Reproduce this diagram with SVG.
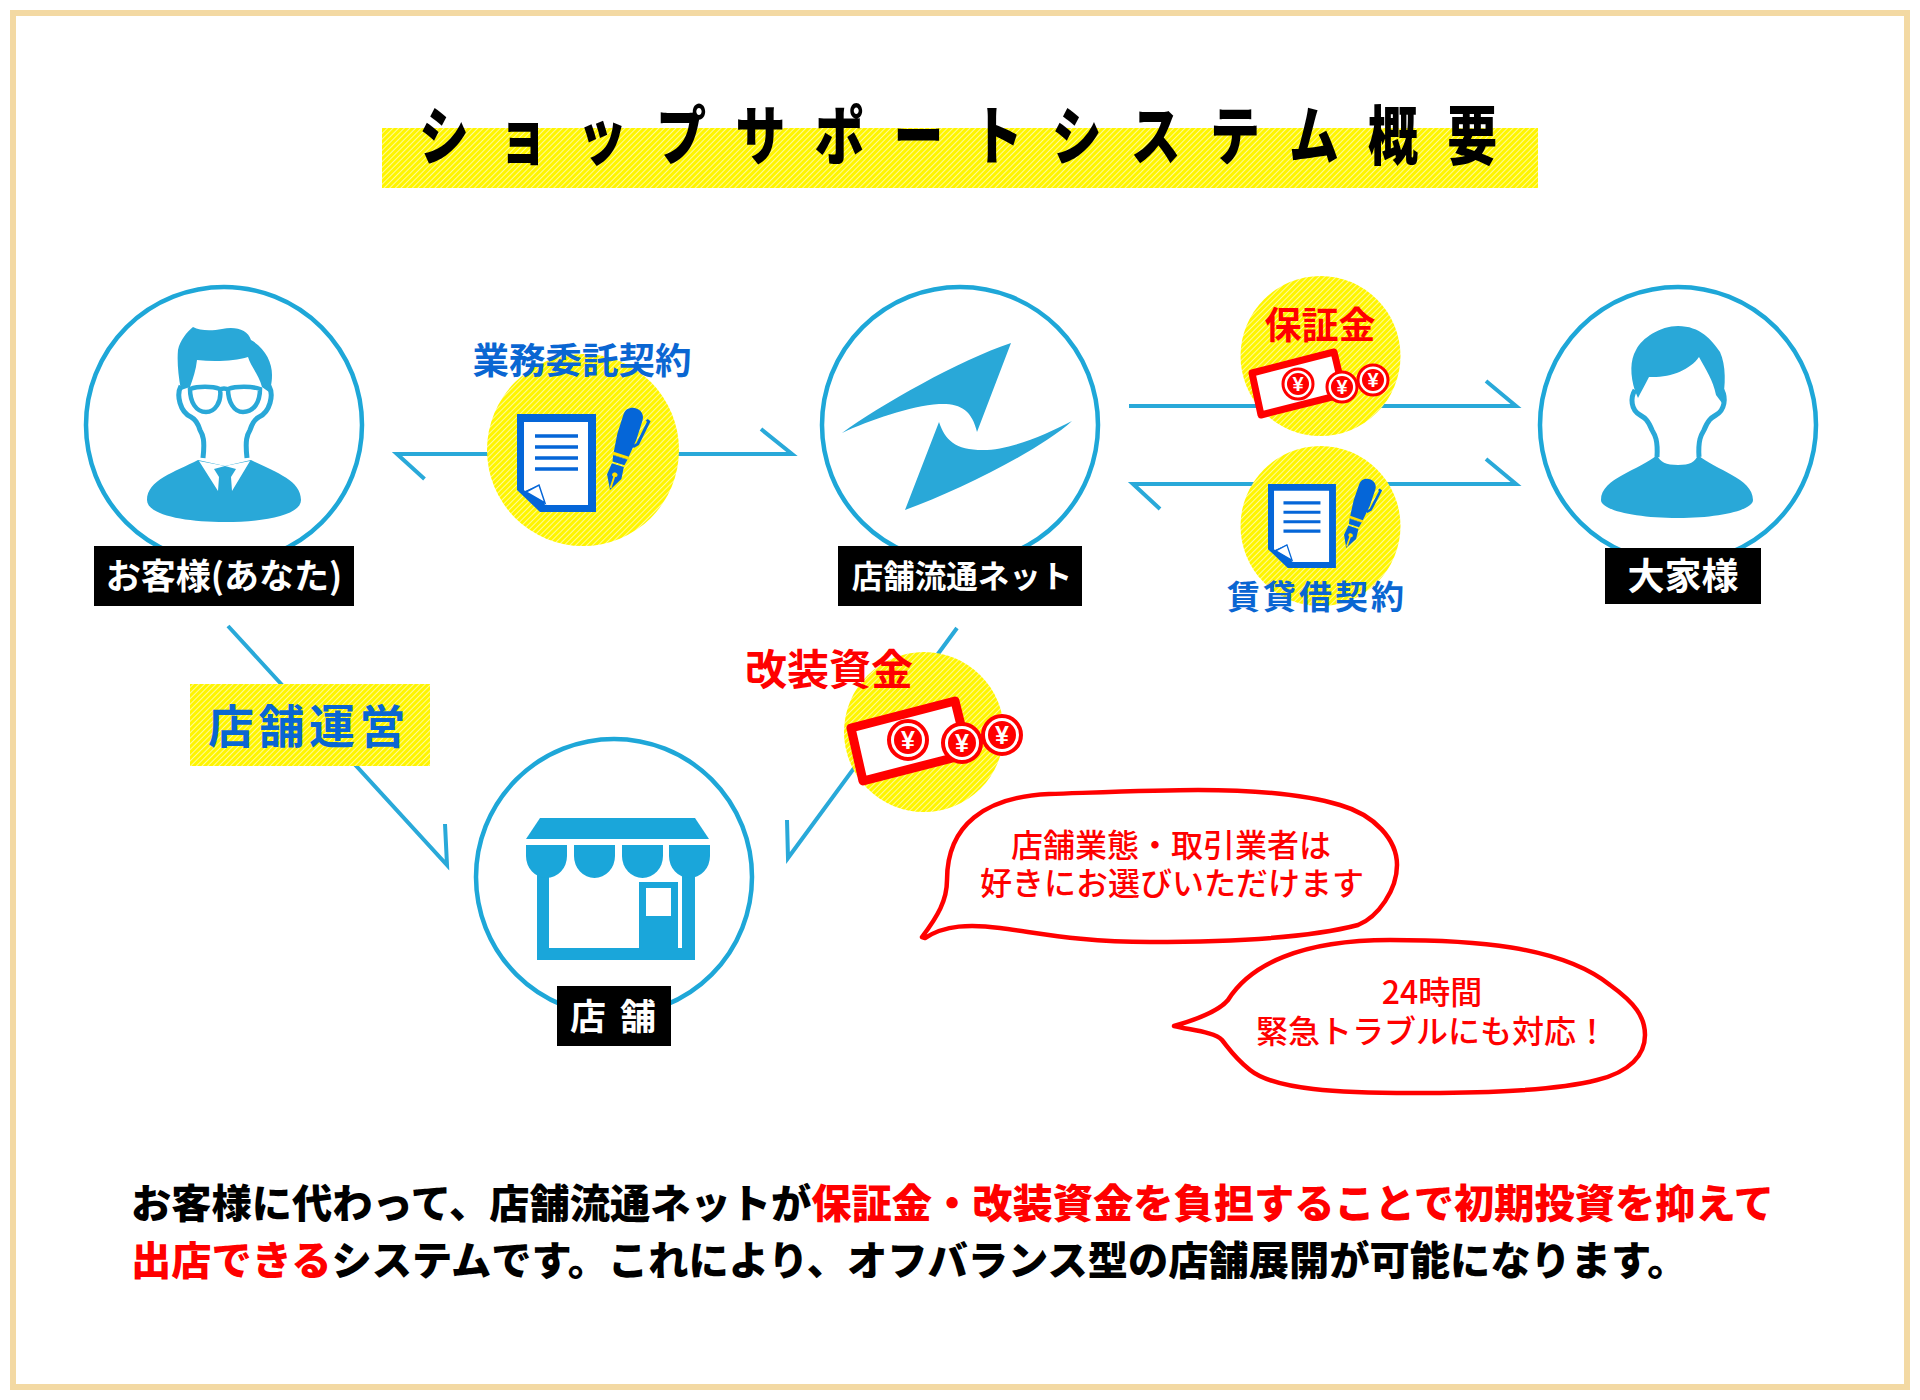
<svg xmlns="http://www.w3.org/2000/svg" xmlns:xlink="http://www.w3.org/1999/xlink" width="1920" height="1400" viewBox="0 0 1920 1400">
<style>
text{font-family:"Noto Sans CJK JP","Noto Sans",sans-serif}
.ring{fill:#fff;stroke:#1ea7d8;stroke-width:4.500}
.ico{fill:#29a8d8}
.face{fill:none;stroke:#29a8d8;stroke-width:5}
.lbl{fill:#000}
.lt{fill:#fff;font-weight:700;text-anchor:middle}
.conn{fill:none;stroke:#29a9d9;stroke-width:4;stroke-linejoin:miter}
.blue{fill:#0a66d2;font-weight:700;text-anchor:middle}
.red{fill:#f00;font-weight:700;text-anchor:middle}
.bub{fill:#fff;stroke:#f00;stroke-width:4.500;stroke-linejoin:round}
.bt{fill:#f00;font-size:32px;font-weight:500;text-anchor:middle}
.bill{fill:#fff;stroke:#f00;stroke-linejoin:round}
.coin{fill:#fff;stroke:#f00}
.yen{fill:#fff;font-family:"Liberation Sans",sans-serif;font-weight:700;text-anchor:middle}
.foot{font-size:40.250px;font-weight:900;fill:#000}
.hl{fill:#f00}
</style>
<defs>
<pattern id="hatch" width="4" height="4" patternUnits="userSpaceOnUse" patternTransform="rotate(45)">
<rect width="4" height="4" fill="#fff500"/><rect width=".6" height="4" fill="#fff"/>
</pattern>
<g id="doc">
<path d="M0,0H79V98H23L0,76Z" fill="#0566d8"/>
<path d="M7,8H71V91H28L22,71L8,77L7,76Z" fill="#fff"/>
<path d="M9,78L22,71L28,89Z" fill="#fff" stroke="#0566d8" stroke-width="1.5"/>
<path d="M18,22H61M18,33H61M18,44H61M18,55H61" stroke="#0566d8" stroke-width="3.6" fill="none"/>
</g>
<g id="pen">
<g transform="scale(1.25,1)">
<path d="M-8,10C-8,-3 8,-3 8,10L8,30L6,52L-6,52L-8,30Z" fill="#0566d8"/>
<path d="M-6,52H6L5,58H-5Z" fill="#0566d8"/>
<path d="M-7,50L7,50" stroke="#ffe000" stroke-width="3"/>
<path d="M-5,60H5L6,72L0,86L-6,72Z" fill="#0566d8"/>
<path d="M0,68V84" stroke="#ffe000" stroke-width="1.5"/>
<circle cx="0" cy="70" r="2.2" fill="#ffe000"/>
<path d="M11,8L13,9L10,34L7,38" fill="none" stroke="#0566d8" stroke-width="2.5"/>
</g>
</g>
</defs>
<rect width="1920" height="1400" fill="#fff"/>
<rect id="frame" x="13" y="13" width="1894" height="1374" fill="none" stroke="#f3d9a3" stroke-width="6"/>

<g id="title">
<rect x="382" y="128" width="1156" height="60" fill="url(#hatch)"/>
<text transform="scale(.78,1)" y="159" font-size="64" font-weight="900" text-anchor="middle" fill="#000" x="569.2 670.6 772 873.4 974.8 1076.2 1177.6 1279 1380.4 1481.8 1583.2 1684.6 1786 1887.4">ショップサポートシステム概要</text>
</g>

<g id="connectors">
<path class="conn" d="M424.500,479L397,454H792L761,429"/>
<path class="conn" d="M1129,406H1516L1486,381"/>
<path class="conn" d="M1160,509L1133,484H1516L1486,459"/>
<path class="conn" d="M228,626L447,865L445,824"/>
<path class="conn" d="M957,628L788,858L787,820"/>
</g>

<g id="node-customer">
<circle class="ring" cx="224" cy="425" r="138"/>
<path class="ico" d="M198,460C175,472 147,480 147,500C147,515 185,522 225,522C265,522 301,515 301,500C301,480 275,472 251,460L225,466Z"/>
<path fill="#fff" d="M199,461L218,491L219,477L214,469L225,466ZM250,461L232,491L231,477L236,469L225,466Z"/>
<path class="face" d="M203,458C205,440 203,435 200,430C197,420 193,418 191,417C180,412 176,395 181,386M247,458C245,440 247,435 250,430C253,420 257,418 259,417C270,412 274,395 269,386"/>
<path class="ico" d="M193,327C200,331 212,331 222,329C236,326 248,330 251,340C265,348 272,362 272,375C272,385 270,388 269,392L262,387C259,375 250,365 248,357C235,361 215,362 197,360C196,370 193,378 190,387L181,390C178,375 177,360 178,350C180,340 187,332 193,327Z"/>
<path fill="none" stroke="#29a8d8" stroke-width="4.500" d="M190,389C198,386 212,386 220,389C222,402 215,412 206,412C196,412 190,402 190,389ZM228,389C236,386 252,386 260,389C260,402 254,412 243,412C234,412 228,402 228,389ZM220,390C222,388 226,388 228,390"/>
<rect class="lbl" x="94" y="546" width="260" height="60"/>
<text class="lt" x="224" y="589" font-size="35">お客様(あなた)</text>
</g>

<g id="node-network">
<circle class="ring" cx="960" cy="425" r="138"/>
<path class="ico" d="M1011,343L977,432C972,410 960,403 939,404C910,406 870,420 842,433C880,405 960,360 1011,343Z"/>
<path class="ico" d="M1072,421C1040,450 960,490 905,510L939,422C945,440 955,450 983,450C1010,450 1045,435 1072,421Z"/>
<rect class="lbl" x="838" y="546" width="244" height="60"/>
<text class="lt" x="962" y="588" font-size="31.500">店舗流通ネット</text>
</g>

<g id="node-owner">
<circle class="ring" cx="1678" cy="425" r="138"/>
<path class="ico" d="M1657,455C1640,470 1601,478 1601,500C1601,510 1635,518 1678,518C1720,518 1753,510 1753,500C1753,478 1715,470 1698,455C1695,462 1690,465 1678,465C1666,465 1660,462 1657,455Z"/>
<path class="face" d="M1657,457C1658,440 1655,435 1652,430C1648,420 1645,418 1640,415C1631,410 1630,398 1635,390M1699,457C1698,440 1701,435 1704,430C1708,420 1711,418 1716,415C1725,410 1726,398 1722,390"/>
<path class="ico" d="M1678,326C1700,326 1712,340 1720,352C1726,365 1726,385 1722,403L1716,395C1713,380 1706,370 1699,357C1690,370 1670,378 1649,377C1645,385 1641,392 1638,398L1635,391C1630,375 1630,360 1636,350C1642,338 1660,326 1678,326Z"/>
<rect class="lbl" x="1605" y="548" width="156" height="56"/>
<text class="lt" x="1683" y="590" font-size="37">大家様</text>
</g>

<g id="node-shop">
<circle class="ring" cx="614" cy="877" r="138"/>
<g fill="#1aa6da">
<path d="M540,818H695L709,839H526Z"/>
<rect x="537" y="870" width="158" height="90"/>
</g>
<rect x="549" y="870" width="133" height="78" fill="#fff"/>
<rect x="639" y="882" width="39" height="66" fill="#1aa6da"/>
<rect x="646" y="888" width="25" height="28" fill="#fff"/>
<g fill="#1aa6da">
<path d="M526,845H567V856A20.500,22 0 0 1 526,856Z"/>
<path d="M574,845H615V856A20.500,22 0 0 1 574,856Z"/>
<path d="M622,845H663V856A20.500,22 0 0 1 622,856Z"/>
<path d="M669,845H710V856A20.500,22 0 0 1 669,856Z"/>
</g>
<rect class="lbl" x="557" y="986" width="114" height="60"/>
<text class="lt" x="588" y="1030" font-size="36">店</text>
<text class="lt" x="638" y="1030" font-size="36">舗</text>
</g>

<g id="badge-contract">
<circle cx="583" cy="450" r="96" fill="url(#hatch)"/>
<use xlink:href="#doc" href="#doc" x="517" y="414"/>
<use xlink:href="#pen" href="#pen" transform="translate(636,408) rotate(17.600)"/>
<text class="blue" x="582" y="374" font-size="36.500">業務委託契約</text>
</g>

<g id="badge-deposit">
<ellipse cx="1320.500" cy="356" rx="80" ry="80" fill="url(#hatch)"/>
<text class="red" x="1320" y="339" font-size="37" font-weight="500">保証金</text>
<path class="bill" stroke-width="7" d="M1252,373L1334,352L1344,394L1261,415Z"/>
<circle class="coin" stroke-width="3" cx="1298" cy="384" r="15"/>
<circle fill="#f00" cx="1298" cy="384" r="11"/>
<text class="yen" x="1298" y="391" font-size="20">¥</text>
<circle class="coin" stroke-width="3" cx="1342" cy="387" r="15"/>
<circle fill="#f00" cx="1342" cy="387" r="11"/>
<text class="yen" x="1342" y="394" font-size="20">¥</text>
<circle class="coin" stroke-width="3" cx="1373" cy="380" r="15"/>
<circle fill="#f00" cx="1373" cy="380" r="11"/>
<text class="yen" x="1373" y="387" font-size="20">¥</text>
</g>

<g id="badge-lease">
<ellipse cx="1320.500" cy="526" rx="80" ry="80" fill="url(#hatch)"/>
<use xlink:href="#doc" href="#doc" transform="translate(1268,484) scale(.86,.857)"/>
<use xlink:href="#pen" href="#pen" transform="translate(1370,479) rotate(19) scale(.85)"/>
<text class="blue" x="1317" y="609" font-size="33" letter-spacing="3">賃貸借契約</text>
</g>

<g id="label-operation">
<rect x="190" y="684" width="240" height="82" fill="url(#hatch)"/>
<text class="blue" x="309" y="743" font-size="46" letter-spacing="4.500" font-weight="500">店舗運営</text>
</g>

<g id="badge-renovation">
<ellipse cx="924" cy="732" rx="80" ry="80" fill="url(#hatch)"/>
<text class="red" x="829" y="685" font-size="42" font-weight="500">改装資金</text>
<path class="bill" stroke-width="9" d="M851,728L955,701L968,754L863,781Z"/>
<circle class="coin" stroke-width="4" cx="908" cy="740" r="19"/>
<circle fill="#f00" cx="908" cy="740" r="14"/>
<text class="yen" x="908" y="749" font-size="25">¥</text>
<circle class="coin" stroke-width="4" cx="962" cy="743" r="19"/>
<circle fill="#f00" cx="962" cy="743" r="14"/>
<text class="yen" x="962" y="752" font-size="25">¥</text>
<circle class="coin" stroke-width="4" cx="1002" cy="735" r="19"/>
<circle fill="#f00" cx="1002" cy="735" r="14"/>
<text class="yen" x="1002" y="744" font-size="25">¥</text>
</g>

<g id="bubble-vendors">
<path class="bub" d="M922,937C938,916 947,900 947,880C947,825 985,797 1049,794C1110,792 1160,790 1198,790C1250,790 1300,793 1340,805C1375,815 1397,840 1397,865C1397,890 1378,917 1358,925C1320,935 1250,942 1150,942C1080,942 1040,933 1000,928C970,924 945,925 925,938Z"/>
<text class="bt" x="1171" y="857">店舗業態・取引業者は</text>
<text class="bt" x="1172" y="895">好きにお選びいただけます</text>
</g>

<g id="bubble-support">
<path class="bub" d="M1174,1026C1195,1020 1218,1012 1228,1000C1250,965 1300,940 1390,940C1470,940 1560,945 1610,985C1635,1003 1645,1017 1645,1035C1645,1055 1630,1072 1597,1080C1550,1092 1470,1093 1412,1093C1340,1093 1275,1090 1250,1070C1235,1058 1230,1050 1222,1040C1215,1032 1190,1030 1174,1026Z"/>
<text class="bt" x="1432" y="1004">24時間</text>
<text class="bt" x="1432" y="1043">緊急トラブルにも対応！</text>
</g>

<g id="footer">
<text class="foot" x="131" y="1218">お客様に代わって、店舗流通ネットが<tspan class="hl">保証金・改装資金を負担することで初期投資を抑えて</tspan></text>
<text class="foot" x="131" y="1275"><tspan class="hl">出店できる</tspan>システムです。これにより、オフバランス型の店舗展開が可能になります。</text>
</g>
</svg>
